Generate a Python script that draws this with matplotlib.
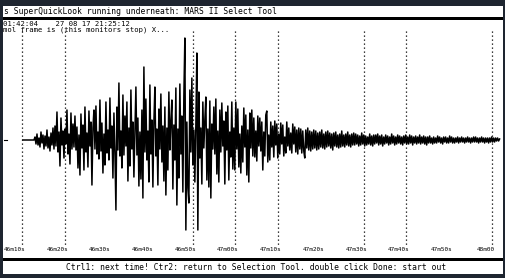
import numpy as np
import matplotlib
matplotlib.use("Agg")
import matplotlib.pyplot as plt
from matplotlib.patches import Rectangle

W, H = 506, 278

# --- data -------------------------------------------------------------
title = "s SuperQuickLook running underneath: MARS II Select Tool"
header_1 = "01:42:04    27 08 17 21:25:12"
header_2 = "mol frame is (this monitors stop) X..."
footer = "Ctrl1: next time! Ctr2: return to Selection Tool. double click Done: start out"

tick_seconds = [0, 10, 20, 30, 40, 50, 60, 70, 80, 90, 100, 110]
tick_labels = ["46m10s", "46m20s", "46m30s", "46m40s", "46m50s", "47m00s",
               "47m10s", "47m20s", "47m30s", "47m40s", "47m50s", "48m00"]
grid_seconds = [0, 10, 40, 50, 60, 80, 90, 110]

sample_dt = 0.234      # s
trace_start = 0.234    # s after 46m10s

trace = [
    0, 0, 0, 0, 0, 0, 0, 0, 0, 0, 0, 0,
    3, -4, 6, -5, 2, -7, 8, -3, 5, -9, 4, -6, 10, -8, 3, -11, 7, -5, 12, -9,
    14, -6, 28, -12, 8, -26, 22, -5, 9, -18, 11, -4, 30, -14, 6, -24, 27, -9, 16, -7,
    24, -10, 13, -28, 5, -35, 26, -8, 15, -30, 33, -12, 7, -27, 29, -6, 18, -45, 12, 30,
    -9, 34, -14, 8, -19, 40, -11, 17, -33, 6, -25, 38, -13, 10, -20, 42, -8, 14, -38, 27,
    -12, -70, 33, -10, 57, -16, 9, -28, 45, -15, 24, -6, 38, -41, 12, -26, 50, -9, 18, -37,
    10, 53, -15, 22, -46, 8, -39, 30, -58, 73, -12, 41, -20, 9, -42, 55, -14, 20, -47, 18,
    53, -16, 11, -45, 31, -9, 46, -22, 14, -41, 33, -55, 12, -30, 48, -10, 19, 40, -49, 15,
    -20, 52, -65, 11, -38, 56, -14, 24, -52, 44, 102, -90, 18, -48, -63, 50, -12, 62, -25, 10,
    -42, 15, 87, -90, 48, -18, 12, -44, 38, -8, 20, 43, -40, 11, -47, 39, -58, 16, -9, 33,
    -14, 41, -34, 9, -42, 30, -12, 37, -6, 19, -44, 28, -10, 34, -40, 8, -17, 38, -29, 12,
    -30, 38, -9, 31, -27, 6, -33, 14, -22, 32, -7, 25, -35, 10, -42, 27, -8, 30, -16, 22,
    -17, 9, -21, 24, -6, 22, -11, 18, -30, 8, -16, 25, 29, -22, 5, -20, 18, -7, 14, -17,
    19, -5, 16, -18, 6, -14, 17, -4, 15, -16, 3, -13, 18, -6, 12, -10, 7, -13, 16, -4,
    13, -12, 10, -14, 12, -9, 11, -13, 9, -11, -18, 10, -8, 12, -10, 9, -11, 8, -9, 10,
    -8, 9, -10, 7, -9, 8, -7, 10, -8, 6, -9, 8, -7, 9, -6, 7, -8, 6, -10, 7,
    -6, 8, -7, 5, -8, 6, -7, 9, -6, 5, -7, 6, -5, 8, -6, 5, -7, 6, -5, 7,
    -5, 6, -4, 5, -6, 4, -5, 7, -4, 5, -6, 4, -5, 3, -4, 6, -5, 4, -6, 5,
    -4, 5, -3, 6, -5, 4, -4, 5, -6, 3, -4, 5, -3, 4, -5, 3, -4, 6, -3, 4,
    -5, 3, -4, 5, -3, 4, -4, 3, -5, 4, -3, 5, -4, 3, -4, 5, -3, 4, -5, 3,
    -3, 4, -4, 3, -3, 5, -4, 3, -3, 4, -4, 3, -5, 3, -3, 4, -3, 2, -4, 3,
    -3, 2, -3, 4, -2, 3, -3, 2, -4, 3, -2, 3, -3, 2, -3, 4, -2, 3, -3, 2,
    -3, 2, -2, 3, -3, 2, -2, 3, -2, 2, -3, 2, -2, 3, -2, 2, -3, 2, -2, 3,
    -2, 3, -2, 2, -3, 2, -2, 3, -2, 2, -3, 2, -2, 2, -3, 2, -2, 3, -2, 2,
    -2, 2, -1, 2, -1, 1,
]

# --- layout helpers (pixel -> figure fraction) --------------------------
def fx(px):
    return px / W


def fy(py):
    return 1 - py / H


DARK = "#1e2530"
MONO = "DejaVu Sans Mono"

fig = plt.figure(figsize=(W / 100, H / 100), dpi=100, facecolor=DARK)

# white panels: title bar, plot area, footer
for x0, y0, x1, y1, c in [(3, 6, 503, 17, "white"),
                          (3, 17, 503, 20, "black"),
                          (3, 258, 503, 261, "black"),
                          (3, 261, 503, 274, "white")]:
    fig.add_artist(Rectangle((fx(x0), fy(y1)), fx(x1) - fx(x0), fy(y0) - fy(y1),
                             transform=fig.transFigure, facecolor=c, edgecolor="none"))

fig.text(fx(4), fy(12), title, fontsize=5.8, family=MONO, va="center", ha="left")
fig.text(fx(66), fy(267.5), footer, fontsize=5.8, family=MONO, va="center", ha="left")

ax = fig.add_axes([fx(3), fy(258), fx(503) - fx(3), fy(20) - fy(258)])
ax.set_facecolor("white")
px_per_s = 4.27
ax.set_xlim((3 - 22) / px_per_s, (503 - 22) / px_per_s)
ax.set_ylim(-(258 - 140), 140 - 20)
for s in ax.spines.values():
    s.set_visible(False)
ax.set_xticks([])
ax.set_yticks([])

# header lines inside plot area
ax.text(0.0, 1 - 3.5 / 238, header_1, transform=ax.transAxes, fontsize=5.2,
        family=MONO, va="center", ha="left")
ax.text(0.0, 1 - 9.5 / 238, header_2, transform=ax.transAxes, fontsize=5.2,
        family=MONO, va="center", ha="left")

# dotted grid
for g in grid_seconds:
    ax.plot([g, g], [140 - 31, 140 - 246], color="black", lw=0.9,
            linestyle=(0, (1, 2.2)))

# tick labels
for t, lab in zip(tick_seconds, tick_labels):
    ax.text(t + 0.8, 140 - 249.5, lab, fontsize=4.3, family=MONO,
            ha="right", va="center")

# trace
times = trace_start + sample_dt * np.arange(len(trace))
ax.plot(times, trace, color="black", lw=1.1)

# small zero marker at left
fig.add_artist(plt.Line2D([fx(4), fx(7)], [fy(140), fy(140)], color="black", lw=0.8,
                          transform=fig.transFigure))

fig.savefig("out.png", dpi=100, facecolor=DARK)
